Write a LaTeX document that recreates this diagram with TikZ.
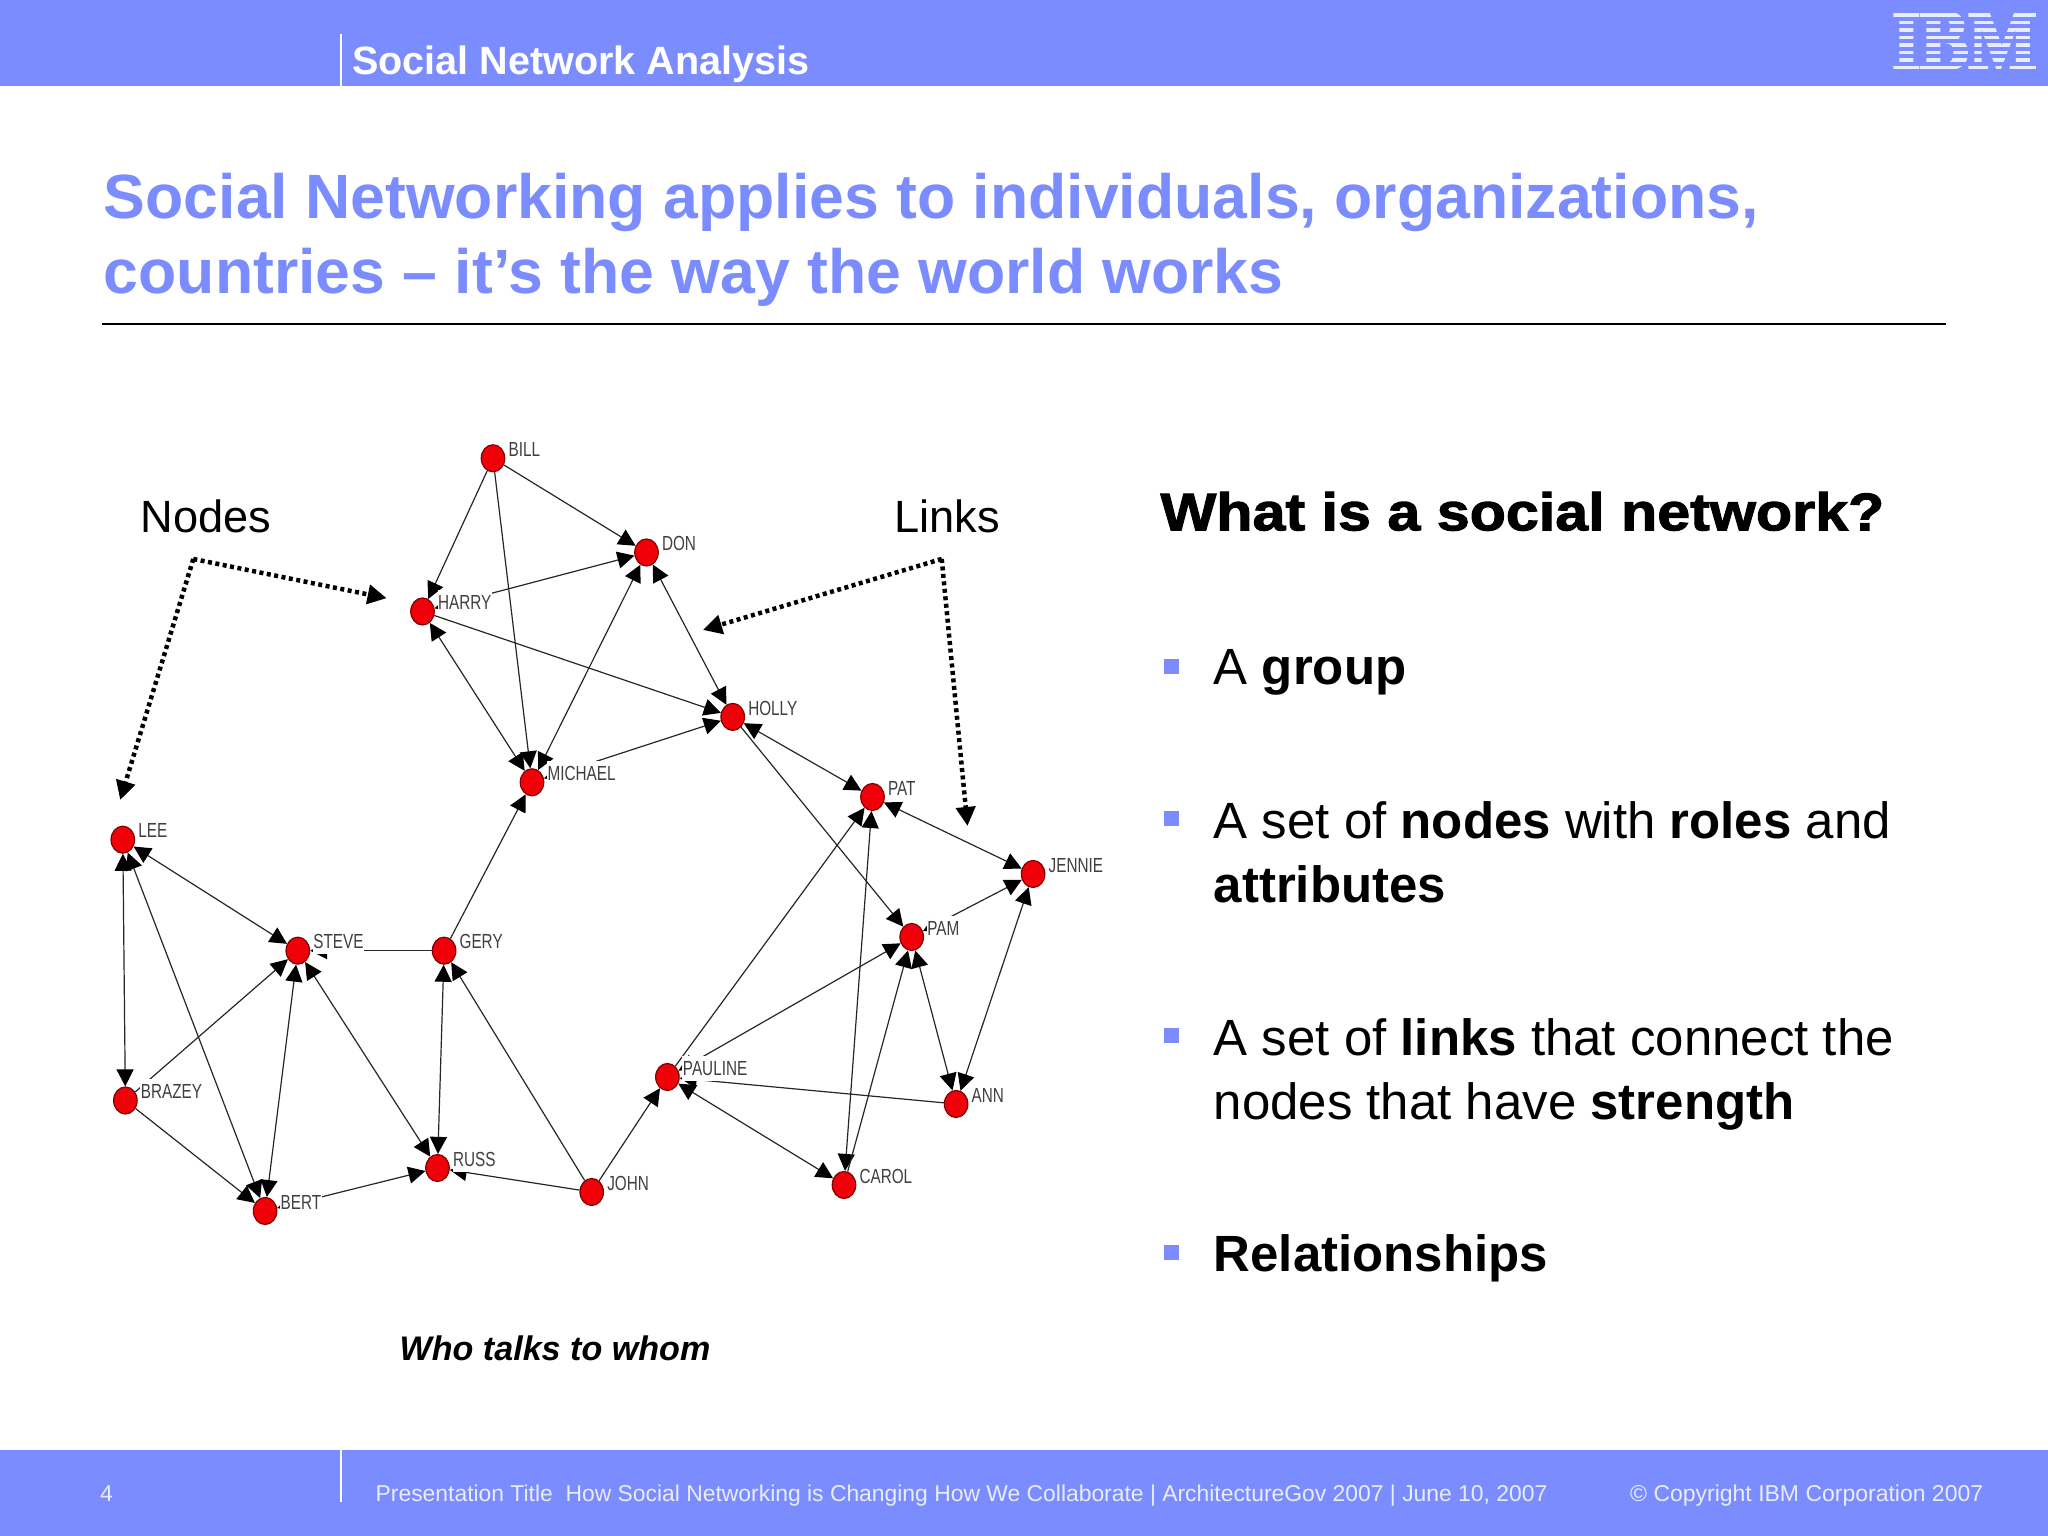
\documentclass[tikz,border=0pt]{standalone}
\usepackage{fontspec}
\setmainfont{Liberation Sans}
\newfontfamily\tagfont[FakeStretch=0.75]{Liberation Sans}
\newfontfamily\blackfont[BoldFeatures={FakeBold=2,FakeStretch=1.12}]{Liberation Sans}
\newfontfamily\logofont[BoldFeatures={FakeBold=4}]{Liberation Serif}
\usetikzlibrary{arrows.meta,positioning,shapes.geometric}
\definecolor{netblue}{HTML}{7B8CFF}
\definecolor{footwhite}{HTML}{E9ECFF}
\definecolor{actorred}{HTML}{F00008}
\tikzset{
  actor/.style={ellipse,draw=black!50!red,line width=0.012cm,fill=actorred,minimum width=0.235cm,minimum height=0.27cm,inner sep=0},
  tag/.style={fill=white,inner sep=0.005cm,minimum height=0.25cm,text=black!75,font=\tagfont\fontsize{5.8}{6}\selectfont},
  link/.style={draw=black!85,line width=0.012cm,-{Triangle[length=0.17cm,width=0.17cm,color=black]}},
  twoway/.style={draw=black!85,line width=0.012cm,{Triangle[length=0.17cm,width=0.17cm,color=black]}-{Triangle[length=0.17cm,width=0.17cm,color=black]}},
  pointer/.style={line width=0.045cm,dash pattern=on 0.04cm off 0.035cm,-{Triangle[length=0.19cm,width=0.19cm]}},
  bodytext/.style={anchor=base west,inner sep=0,font=\fontsize{14.5}{17}\selectfont},
  bullet/.style={fill=netblue,minimum size=0.15cm,inner sep=0},
  foottext/.style={anchor=base west,inner sep=0,text=footwhite,font=\fontsize{6.54}{8}\selectfont},
  titletext/.style={anchor=base west,inner sep=0,text=netblue,font=\bfseries\fontsize{17.8}{21}\selectfont}
}
\begin{document}
\begin{tikzpicture}
  \useasboundingbox (0,0) rectangle (20.48,15.36);

  % Bands and rule
  \fill[netblue] (0,14.5) rectangle (20.48,15.36);
  \fill[netblue] (0,0) rectangle (20.48,0.86);
  \draw[white,line width=0.02cm] (3.41,14.5) -- (3.41,15.02);
  \draw[white,line width=0.02cm] (3.41,0.34) -- (3.41,0.86);
  \draw[black,line width=0.02cm] (1.02,12.12) -- (19.46,12.12);

  % Logo
  \node[anchor=center,inner sep=0,text=footwhite,xscale=0.855,font=\logofont\bfseries\fontsize{24}{26}\selectfont] (logo) at (19.645,14.95) {IBM};
  \draw[netblue,line width=0.042cm]
    (18.85,15.2475) -- (20.44,15.2475) (18.85,15.1725) -- (20.44,15.1725) (18.85,15.0975) -- (20.44,15.0975)
    (18.85,15.0225) -- (20.44,15.0225) (18.85,14.9475) -- (20.44,14.9475) (18.85,14.8725) -- (20.44,14.8725)
    (18.85,14.7975) -- (20.44,14.7975) (18.85,14.7225) -- (20.44,14.7225) (18.85,14.6475) -- (20.44,14.6475);

  % Texts of the slide
  \node[anchor=base west,inner sep=0,text=white,font=\bfseries\fontsize{11.25}{13}\selectfont] (section) at (3.516,14.616) {Social Network Analysis};
  \node[titletext] (titleone) at (1.032,13.17) {Social Networking applies to individuals, organizations,};
  \node[titletext] (titletwo) at (1.032,12.42) {countries – it’s the way the world works};
  \node[anchor=base west,inner sep=0,font=\fontsize{12.86}{15}\selectfont] (nodesword) at (1.398,10.03) {Nodes};
  \node[anchor=base west,inner sep=0,font=\fontsize{12.86}{15}\selectfont] (linksword) at (8.935,10.03) {Links};
  \node[anchor=base west,inner sep=0,font=\blackfont\bfseries\fontsize{15.04}{18}\selectfont] (question) at (11.598,10.057) {What is a social network?};
  \node[anchor=base west,inner sep=0,font=\bfseries\itshape\fontsize{9.7}{12}\selectfont] (caption) at (3.99,1.753) {Who talks to whom};

  % Bullets
  \node[bullet] (bulletone) at (11.716,8.699) {};
  \node[bullet] (bullettwo) at (11.716,7.171) {};
  \node[bullet] (bulletthree) at (11.716,5.003) {};
  \node[bullet] (bulletfour) at (11.716,2.835) {};
  \node[bodytext] (lineone) at (12.131,8.516) {A \textbf{group}};
  \node[bodytext] (linetwo) at (12.131,6.975) {A set of \textbf{nodes} with \textbf{roles} and};
  \node[bodytext] (linethree) at (12.131,6.335) {\textbf{attributes}};
  \node[bodytext] (linefour) at (12.131,4.807) {A set of \textbf{links} that connect the};
  \node[bodytext] (linefive) at (12.131,4.167) {nodes that have \textbf{strength}};
  \node[bodytext] (linesix) at (12.131,2.64) {\textbf{Relationships}};

  % Footer
  \node[foottext] (pagenumber) at (0.994,0.34) {4};
  \node[foottext,font=\fontsize{6.51}{8}\selectfont] (footertitle) at (3.75,0.34) {Presentation Title\ \ How Social Networking is Changing How We Collaborate | ArchitectureGov 2007 | June 10, 2007};
  \node[foottext] (copyright) at (16.295,0.34) {© Copyright IBM Corporation 2007};

  % Marking the actors
  \node[actor] (bill) at (4.93,10.777) {};
  \node[actor] (don) at (6.465,9.835) {};
  \node[actor] (harry) at (4.225,9.245) {};
  \node[actor] (holly) at (7.327,8.191) {};
  \node[actor] (michael) at (5.32,7.537) {};
  \node[actor] (pat) at (8.725,7.39) {};
  \node[actor] (lee) at (1.228,6.963) {};
  \node[actor] (jennie) at (10.331,6.62) {};
  \node[actor] (pam) at (9.117,5.99) {};
  \node[actor] (steve) at (2.978,5.853) {};
  \node[actor] (gery) at (4.441,5.853) {};
  \node[actor] (pauline) at (6.674,4.59) {};
  \node[actor] (brazey) at (1.254,4.355) {};
  \node[actor] (ann) at (9.561,4.32) {};
  \node[actor] (russ) at (4.375,3.68) {};
  \node[actor] (carol) at (8.44,3.51) {};
  \node[actor] (john) at (5.917,3.44) {};
  \node[actor] (bert) at (2.651,3.25) {};

  % Drawing the links
  \draw[link] (bill) -- (harry);
  \draw[link] (bill) -- (michael);
  \draw[link] (bill) -- (don);
  \draw[twoway] (harry) -- (don);
  \draw[twoway] (harry) -- (michael);
  \draw[link] (harry) -- (holly);
  \draw[twoway] (michael) -- (don);
  \draw[twoway] (don) -- (holly);
  \draw[twoway] (michael) -- (holly);
  \draw[link] (gery) -- (michael);
  \draw[twoway] (holly) -- (pat);
  \draw[link] (holly) -- (pam);
  \draw[twoway] (pat) -- (jennie);
  \draw[twoway] (pam) -- (jennie);
  \draw[twoway] (jennie) -- (ann);
  \draw[twoway] (pam) -- (ann);
  \draw[twoway] (pauline) -- (pam);
  \draw[link] (pauline) -- (pat);
  \draw[link] (ann) -- (pauline);
  \draw[twoway] (pauline) -- (carol);
  \draw[twoway] (carol) -- (pat);
  \draw[link] (carol) -- (pam);
  \draw[link] (john) -- (pauline);
  \draw[link] (john) -- (gery);
  \draw[link] (john) -- (russ);
  \draw[twoway] (gery) -- (russ);
  \draw[twoway] (steve) -- (russ);
  \draw[link] (gery) -- (steve);
  \draw[twoway] (steve) -- (lee);
  \draw[twoway] (steve) -- (bert);
  \draw[link] (brazey) -- (steve);
  \draw[twoway] (brazey) -- (lee);
  \draw[twoway] (lee) -- (bert);
  \draw[link] (brazey) -- (bert);
  \draw[twoway] (bert) -- (russ);

  % Writing the names over the links
  \node[tag,right=0.02cm of bill,yshift=0.087cm] (billtag) {BILL};
  \node[tag,right=0.02cm of don,yshift=0.087cm] (dontag) {DON};
  \node[tag,right=0.02cm of harry,yshift=0.087cm] (harrytag) {HARRY};
  \node[tag,right=0.02cm of holly,yshift=0.087cm] (hollytag) {HOLLY};
  \node[tag,right=0.02cm of michael,yshift=0.087cm] (michaeltag) {MICHAEL};
  \node[tag,right=0.02cm of pat,yshift=0.087cm] (pattag) {PAT};
  \node[tag,right=0.02cm of lee,yshift=0.087cm] (leetag) {LEE};
  \node[tag,right=0.02cm of jennie,yshift=0.087cm] (jennietag) {JENNIE};
  \node[tag,right=0.02cm of pam,yshift=0.087cm] (pamtag) {PAM};
  \node[tag,right=0.02cm of steve,yshift=0.087cm] (stevetag) {STEVE};
  \node[tag,right=0.02cm of gery,yshift=0.087cm] (gerytag) {GERY};
  \node[tag,right=0.02cm of pauline,yshift=0.087cm] (paulinetag) {PAULINE};
  \node[tag,right=0.02cm of brazey,yshift=0.087cm] (brazeytag) {BRAZEY};
  \node[tag,right=0.02cm of ann,yshift=0.087cm] (anntag) {ANN};
  \node[tag,right=0.02cm of russ,yshift=0.087cm] (russtag) {RUSS};
  \node[tag,right=0.02cm of carol,yshift=0.087cm] (caroltag) {CAROL};
  \node[tag,right=0.02cm of john,yshift=0.087cm] (johntag) {JOHN};
  \node[tag,right=0.02cm of bert,yshift=0.087cm] (berttag) {BERT};

  % Pointers from the two words
  \coordinate (nodesapex) at (1.933,9.770);
  \coordinate (nodesright) at (3.866,9.378);
  \coordinate (nodesdown) at (1.202,7.36);
  \coordinate (linksapex) at (9.417,9.770);
  \coordinate (linksleft) at (7.03,9.06);
  \coordinate (linksdown) at (9.675,7.10);
  \draw[pointer] (nodesapex) -- (nodesright);
  \draw[pointer] (nodesapex) -- (nodesdown);
  \draw[pointer] (linksapex) -- (linksleft);
  \draw[pointer] (linksapex) -- (linksdown);
\end{tikzpicture}
\end{document}
